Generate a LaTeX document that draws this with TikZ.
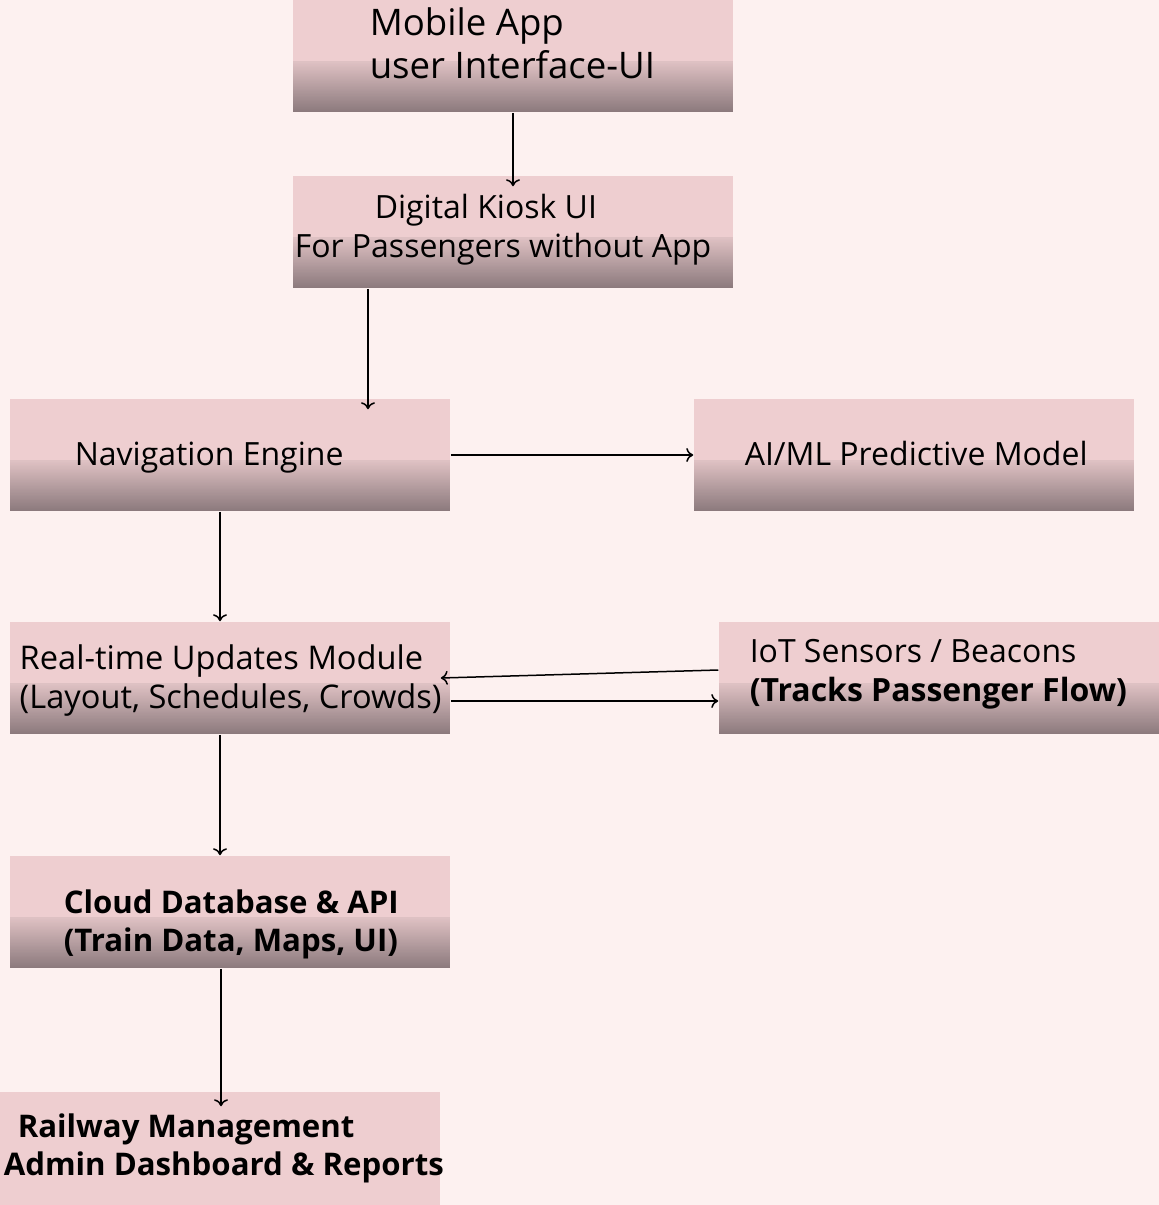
\documentclass[tikz,border=0pt]{standalone}
\usepackage{fontspec}
\setmainfont{Open Sans}
\usetikzlibrary{calc, arrows.meta}
\definecolor{bgpink}{RGB}{253,241,240}
\definecolor{boxpink}{RGB}{238,206,208}
\definecolor{boxdark}{RGB}{140,122,125}
\tikzset{box/.style={fill=boxpink,minimum width=220pt,minimum height=56pt,inner sep=0pt,
            path picture={\foreach \k in {0,...,49}{\pgfmathtruncatemacro\p{100-1.7*\k}
                \fill[boxdark!\p!boxpink]($(path picture bounding box.south west)+(0,-\k)$)rectangle($(path picture bounding box.south east)+(0,-\k-1.6)$);}}},
         plainbox/.style={fill=boxpink,minimum width=220pt,minimum height=56.5pt,inner sep=0pt},
         txt/.style={anchor=base west,align=left,inner sep=0pt,font=\fontsize{16}{19.5}\selectfont},
         big/.style={font=\fontsize{18.3}{21.5}\selectfont},
         heavy/.style={font=\fontsize{15.6}{19}\bfseries},
        }

\begin{document}
\begin{tikzpicture}[x=0.5pt,y=-0.5pt,line width=0.75pt,>={To[length=3.5pt,width=7pt]}]
        \fill[bgpink](0,0)rectangle(1159,1205);
        \useasboundingbox(0,0)rectangle(1159,1205);

        \node[box](mob)at(513,56){};
        \node[box](kio)at(513,232){};
        \node[box](nav)at(230,455){};
        \node[box](ml)at(914,455){};
        \node[box](rt)at(230,678){};
        \node[box](iot)at(939,678){};
        \node[box](db)at(230,912){};
        \node[plainbox](adm)at(220,1148.5){};

        \node[txt,big](mobt)at(369,78){Mobile App\\user Interface-UI};
        \node[txt](kiot)at(294,257){\hspace*{40pt}Digital Kiosk UI\\For Passengers without App};
        \node[txt](navt)at(74,465){Navigation Engine};
        \node[txt](mlt)at(744,465){AI/ML Predictive Model};
        \node[txt,font=\fontsize{16.3}{19.5}\selectfont](rtt)at(19,708){Real-time Updates Module\\(Layout, Schedules, Crowds)};
        \node[txt](iott)at(749,701){IoT Sensors / Beacons\\\textbf{(Tracks Passenger Flow)}};
        \node[txt,heavy](dbt)at(63,951){Cloud Database \& API\\(Train Data, Maps, UI)};
        \node[txt,heavy](admt)at(3,1175){\hspace*{7pt}Railway Management\\Admin Dashboard \& Reports};

        \draw[->](mob.south)--($(kio.north)+(0,11)$);
        \draw[->]($(kio.south)+(-145,0)$)--($(nav.north)+(138,11)$);
        \draw[->](nav.east)--(ml.west);
        \draw[->]($(nav.south)+(-10,0)$)--($(rt.north)+(-10,0)$);
        \draw[->]($(iot.west)+(0,-8)$)--($(rt.east)+(-10,0)$);
        \draw[->]($(rt.east)+(0,23)$)--($(iot.west)+(0,23)$);
        \draw[->]($(rt.south)+(-10,0)$)--($(db.north)+(-10,0)$);
        \draw[->]($(db.south)+(-9,0)$)--($(adm.north)+(1,15)$);
    \end{tikzpicture}
\end{document}
